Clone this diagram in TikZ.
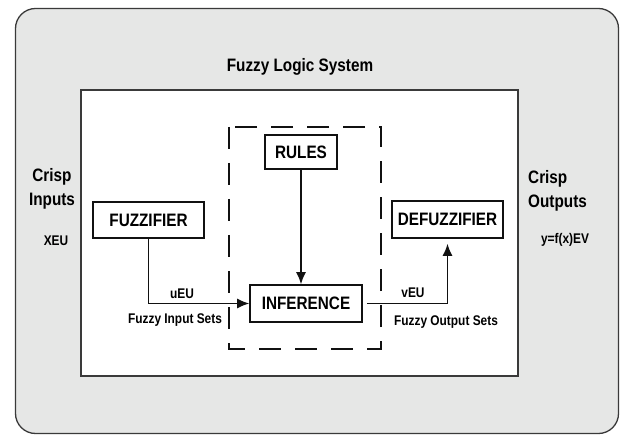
\documentclass[tikz,border=0pt]{standalone}
\usepackage{fontspec}
\setmainfont{Liberation Sans}[FakeStretch=0.85]
\usepackage{tikz}
\usetikzlibrary{arrows.meta,positioning,calc}
\usepackage{xcolor}
\definecolor{ink}{HTML}{111111}
\definecolor{ink2}{HTML}{3A3A3A}
\definecolor{panel}{HTML}{E6E7E6}

\begin{document}
\begin{tikzpicture}[x=1pt, y=-1pt, font=\bfseries,
  block/.style={draw=ink, line width=1.6pt, fill=white, minimum height=36pt, inner sep=2pt, font=\fontsize{18}{20}\selectfont\bfseries},
  lbl/.style={font=\fontsize{14}{16}\selectfont\bfseries, inner sep=1pt},
  side/.style={font=\fontsize{18}{24}\selectfont\bfseries, inner sep=1pt},
  arr/.style={-{Latex[length=12pt, width=10pt]}, ink, line width=1.4pt}]
  \useasboundingbox (0,0) rectangle (620,435);
  % frames
  \draw[ink2, line width=1.3pt, fill=panel, rounded corners=20pt] (15.5,8.5) rectangle (618.5,433.5);
  \draw[ink2, line width=1.8pt, fill=white] (81,90) rectangle (518,376);
  \draw[ink, line width=1.6pt, dash pattern=on 22pt off 14pt] (229,127) rectangle (381,349);
  \node[font=\fontsize{18}{20}\selectfont\bfseries] (title) at (300,67) {Fuzzy Logic System};
  % blocks
  \node[block, minimum width=111pt] (fuzz) at (148.5,220) {FUZZIFIER};
  \node[block, minimum width=72pt, minimum height=34pt] (rules) at (301,152) {RULES};
  \node[block, minimum width=112pt, minimum height=37pt] (inf) at (306,303.5) {INFERENCE};
  \node[block, minimum width=111pt, minimum height=37pt] (defuzz) at (447.5,219.5) {DEFUZZIFIER};
  % connectors
  \draw[arr] (fuzz.south) |- (inf.west);
  \draw[arr] (rules.south) -- (rules.south |- inf.north);
  \draw[arr, shorten <=4pt, shorten >=5pt] (inf.east) -| (defuzz.south);
  % labels
  \node[lbl] (u) at (182,294) {uEU};
  \node[lbl] (uset) at (175,320) {Fuzzy Input Sets};
  \node[lbl] (v) at (413,293) {vEU};
  \node[lbl] (vset) at (446,322) {Fuzzy Output Sets};
  \node[side, align=center] (cin) at (52,189) {Crisp\\Inputs};
  \node[lbl] (x) at (56,241) {XEU};
  \node[side, align=left, anchor=west] (cout) at (527,191) {Crisp\\Outputs};
  \node[lbl] (y) at (565,240) {y=f(x)EV};
\end{tikzpicture}
\end{document}
